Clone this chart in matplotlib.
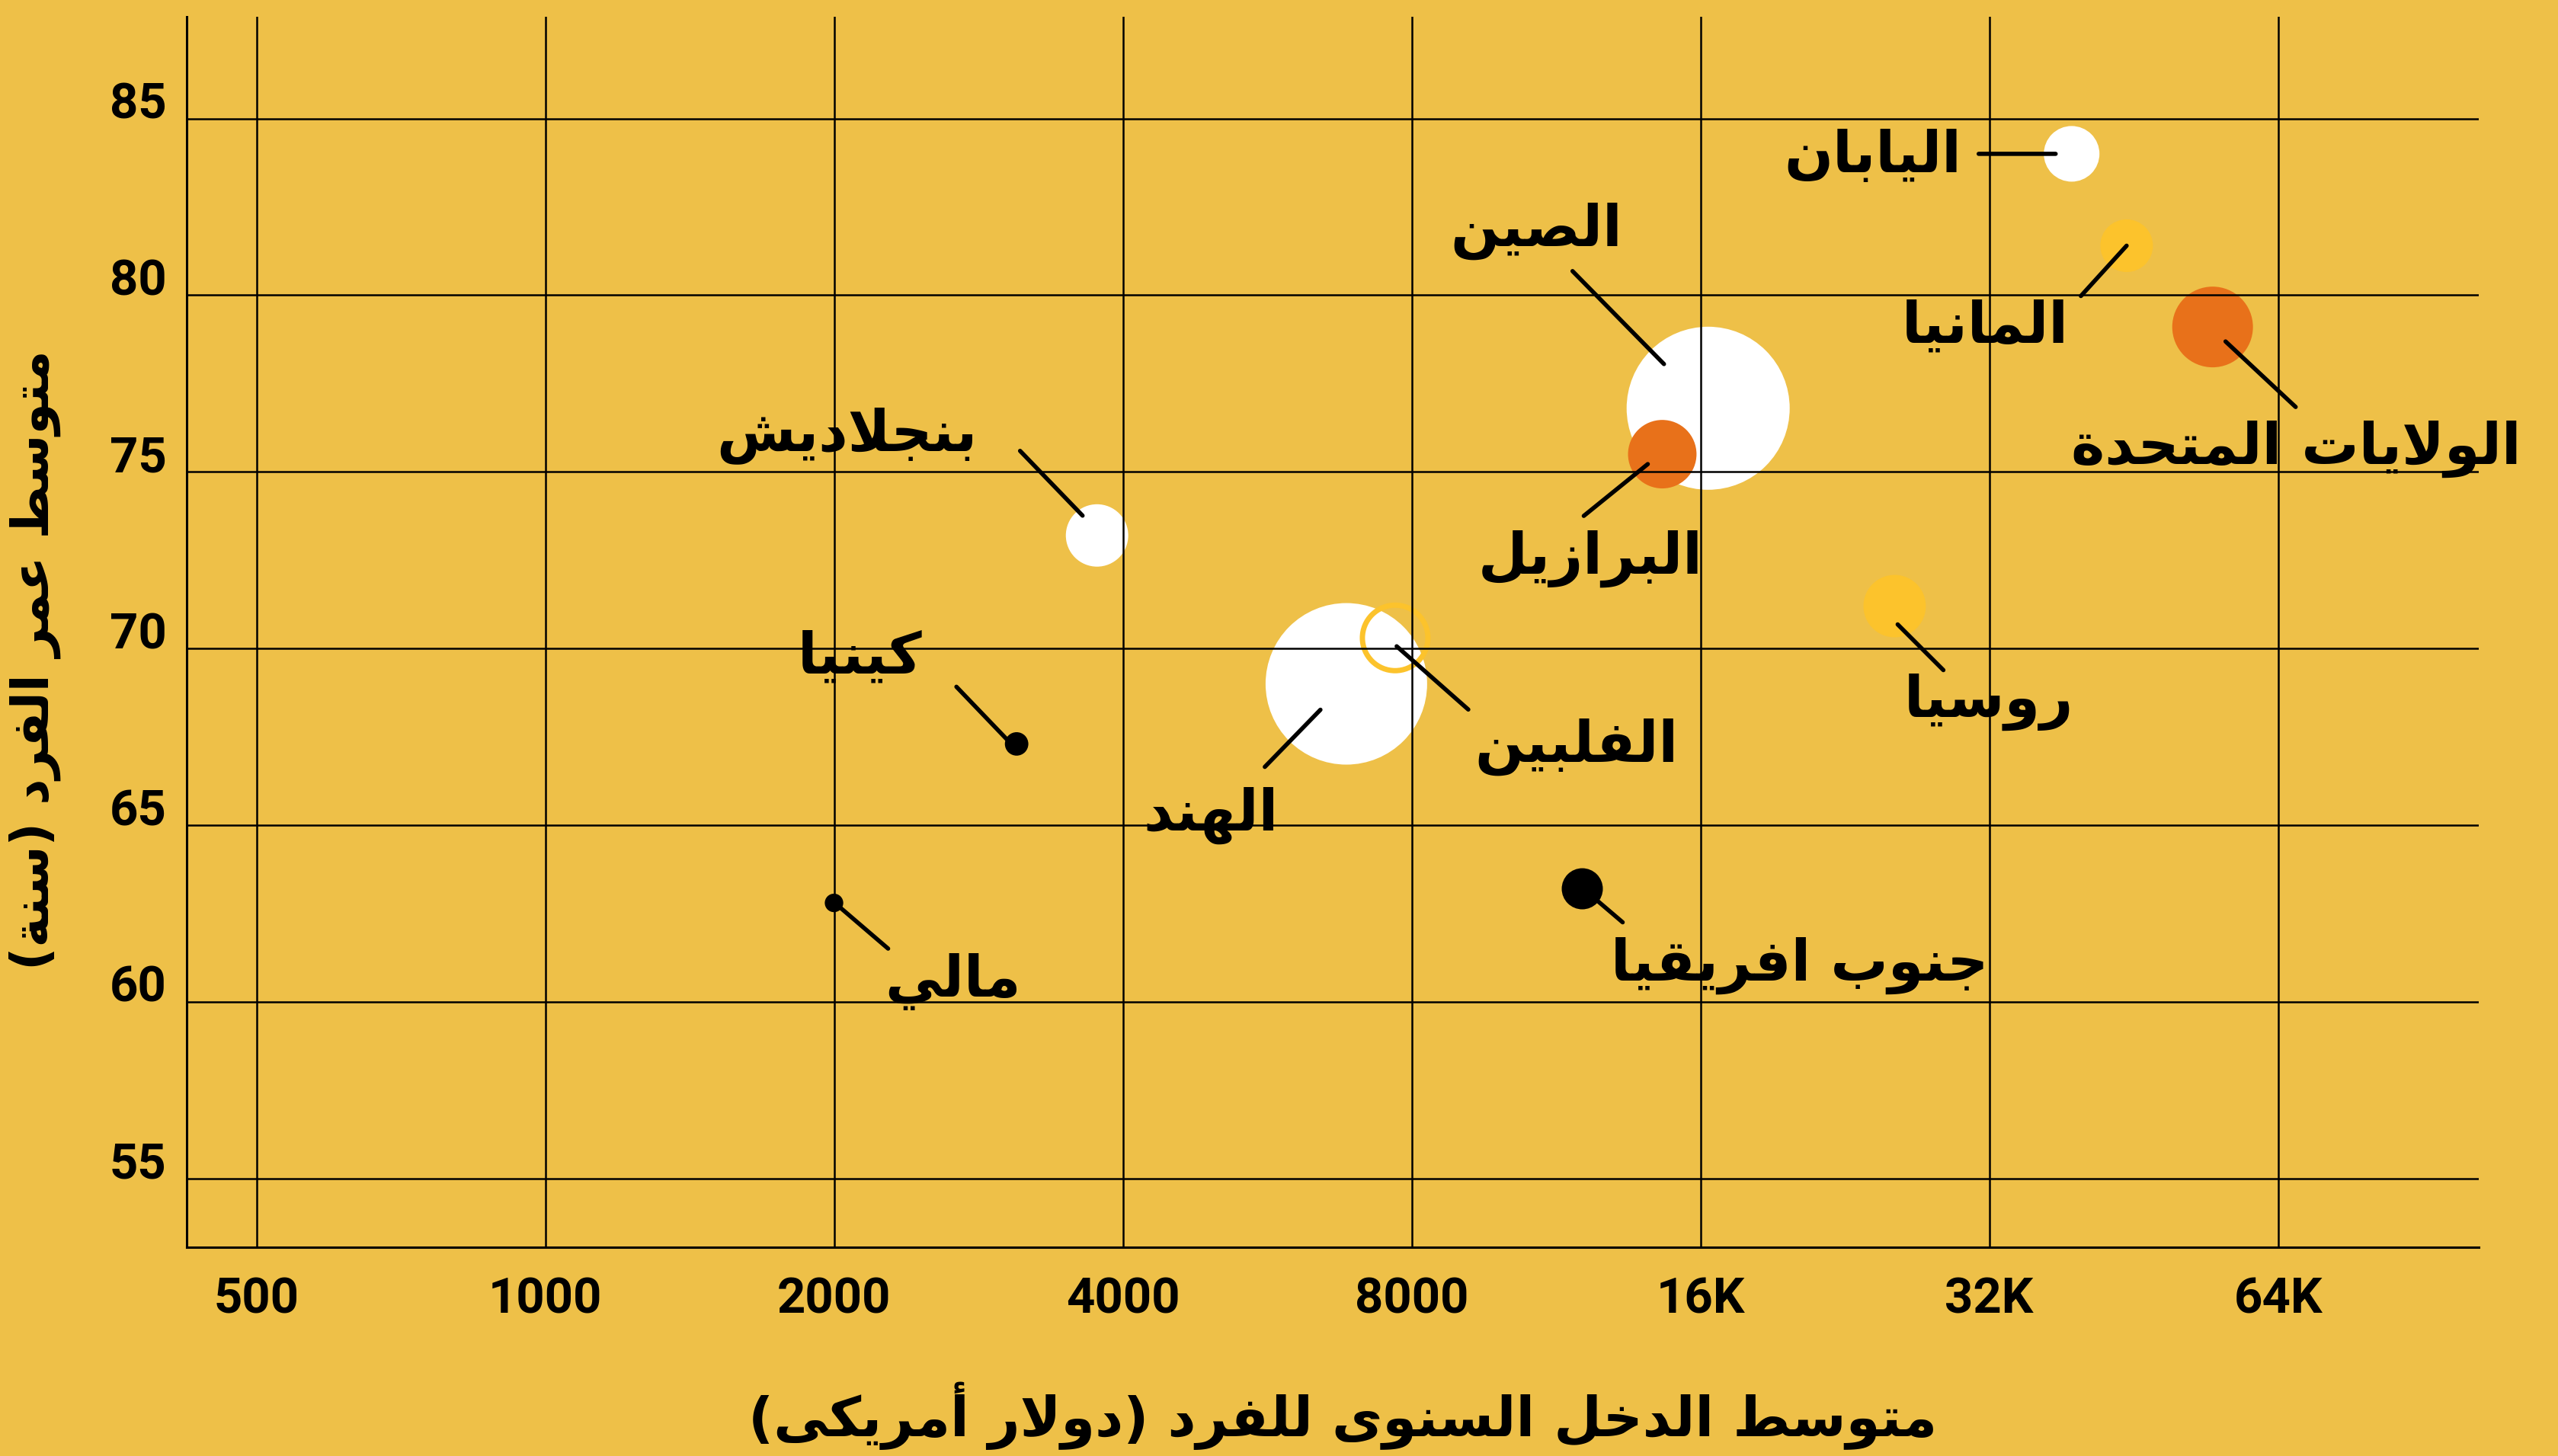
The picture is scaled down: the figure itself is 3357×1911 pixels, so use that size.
import matplotlib
matplotlib.use("Agg")
import matplotlib.pyplot as plt
from matplotlib.transforms import offset_copy
import numpy as np

# ---------------- data ----------------
countries = ["الصين", "الهند", "الولايات المتحدة", "البرازيل", "الفلبين", "بنجلاديش",
             "روسيا", "اليابان", "المانيا", "جنوب افريقيا", "كينيا", "مالي"]
income = [16300, 6840, 54700, 14600, 7690, 3760, 25500, 39000, 44500, 12050, 3100, 2000]
life_exp = [76.8, 69.0, 79.1, 75.5, 70.3, 73.2, 71.2, 84.0, 81.4, 63.2, 67.3, 62.8]
population_m = [1400, 1374, 343, 247, 226, 205, 205, 163, 146, 89, 29, 18]

x_ticks = [500, 1000, 2000, 4000, 8000, 16000, 32000, 64000]
x_tick_labels = ["500", "1000", "2000", "4000", "8000", "16K", "32K", "64K"]
y_ticks = [55, 60, 65, 70, 75, 80, 85]

x_title = "متوسط الدخل السنوى للفرد (دولار أمريكى)"
y_title = "متوسط عمر الفرد (سنة)"

# ---------------- styles / layout ----------------
BG = "#EEC048"
WHITE = "#FFFFFF"
ORANGE = "#E8711A"
GOLD = "#FCC32C"
BLACK = "#000000"
face = [WHITE, WHITE, ORANGE, ORANGE, "none", WHITE, GOLD, WHITE, GOLD, BLACK, BLACK, BLACK]
edge = ["none", "none", "none", "none", GOLD, "none", "none", "none", "none", "none", "none", "none"]

# label layout: text offset (px), leader start offset, leader end offset (px, y up)
label_layout = {
    "اليابان": ((-261, -4), (-122, 0), (-21, 0)),
    "المانيا": ((-186, -107), (-60, -66), (0, 0)),
    "الولايات المتحدة": ((110, -160), (109, -105), (17, -19)),
    "الصين": ((-225, 233), (-178, 180), (-58, 58)),
    "البرازيل": ((-94, -137), (-103, -81), (-19, -13)),
    "بنجلاديش": ((-328, 131), (-101, 111), (-19, 26)),
    "روسيا": ((124, -126), (64, -84), (4, -24)),
    "الهند": ((-178, -173), (-107, -109), (-34, -34)),
    "الفلبين": ((238, -143), (96, -94), (2, -11)),
    "كينيا": ((-206, 113), (-79, 75), (-9, 2)),
    "جنوب افريقيا": ((285, -101), (53, -44), (19, -15)),
    "مالي": ((156, -103), (71, -60), (8, -6)),
}

# ---------------- minimal Arabic shaping ----------------
FORMS = {
    'ا': ('\uFE8D', '\uFE8E', None, None),
    'أ': ('\uFE83', '\uFE84', None, None),
    'ب': ('\uFE8F', '\uFE90', '\uFE91', '\uFE92'),
    'ة': ('\uFE93', '\uFE94', None, None),
    'ت': ('\uFE95', '\uFE96', '\uFE97', '\uFE98'),
    'ج': ('\uFE9D', '\uFE9E', '\uFE9F', '\uFEA0'),
    'ح': ('\uFEA1', '\uFEA2', '\uFEA3', '\uFEA4'),
    'خ': ('\uFEA5', '\uFEA6', '\uFEA7', '\uFEA8'),
    'د': ('\uFEA9', '\uFEAA', None, None),
    'ر': ('\uFEAD', '\uFEAE', None, None),
    'ز': ('\uFEAF', '\uFEB0', None, None),
    'س': ('\uFEB1', '\uFEB2', '\uFEB3', '\uFEB4'),
    'ش': ('\uFEB5', '\uFEB6', '\uFEB7', '\uFEB8'),
    'ص': ('\uFEB9', '\uFEBA', '\uFEBB', '\uFEBC'),
    'ط': ('\uFEC1', '\uFEC2', '\uFEC3', '\uFEC4'),
    'ع': ('\uFEC9', '\uFECA', '\uFECB', '\uFECC'),
    'ف': ('\uFED1', '\uFED2', '\uFED3', '\uFED4'),
    'ق': ('\uFED5', '\uFED6', '\uFED7', '\uFED8'),
    'ك': ('\uFED9', '\uFEDA', '\uFEDB', '\uFEDC'),
    'ل': ('\uFEDD', '\uFEDE', '\uFEDF', '\uFEE0'),
    'م': ('\uFEE1', '\uFEE2', '\uFEE3', '\uFEE4'),
    'ن': ('\uFEE5', '\uFEE6', '\uFEE7', '\uFEE8'),
    'ه': ('\uFEE9', '\uFEEA', '\uFEEB', '\uFEEC'),
    'و': ('\uFEED', '\uFEEE', None, None),
    'ى': ('\uFEEF', '\uFEF0', None, None),
    'ي': ('\uFEF1', '\uFEF2', '\uFEF3', '\uFEF4'),
    'لا': ('\uFEFB', '\uFEFC', None, None),
    'لأ': ('\uFEF7', '\uFEF8', None, None),
}
MIRROR = {'(': ')', ')': '('}


def shape_ar(text):
    units = []
    i = 0
    while i < len(text):
        if text[i] == 'ل' and i + 1 < len(text) and text[i + 1] in 'اأ':
            units.append(text[i:i + 2])
            i += 2
        else:
            units.append(text[i])
            i += 1
    out = []
    for k, u in enumerate(units):
        if u not in FORMS:
            out.append(MIRROR.get(u, u))
            continue
        prev = units[k - 1] if k > 0 else None
        nxt = units[k + 1] if k + 1 < len(units) else None
        dual = FORMS[u][2] is not None
        pj = prev in FORMS and FORMS[prev][2] is not None
        nj = dual and nxt in FORMS
        if pj and nj:
            out.append(FORMS[u][3])
        elif pj:
            out.append(FORMS[u][1])
        elif nj:
            out.append(FORMS[u][2])
        else:
            out.append(FORMS[u][0])
    return ''.join(reversed(out))


# ---------------- figure ----------------
DPI = 100
fig = plt.figure(figsize=(33.57, 19.11), dpi=DPI, facecolor=BG)
ax = fig.add_axes([0.073, 0.1435, 0.969 - 0.073, 0.9885 - 0.1435])
ax.set_facecolor(BG)
ax.set_xscale("log", base=2)
ax.set_xlim(423, 103600)
ax.set_ylim(53.06, 87.88)

# bubble sizes: radius px proportional to sqrt(population)
r_px = 107 * np.sqrt(np.array(population_m) / 1400.0)
sizes = (2 * r_px * 72 / DPI) ** 2
lws = [5 if e != "none" else 0 for e in edge]
ax.scatter(income, life_exp, s=sizes, c=face, edgecolors=edge, linewidths=lws, zorder=1)

ax.set_axisbelow("line")
ax.grid(True, color=BLACK, lw=1.8)
ax.set_xticks(x_ticks)
ax.set_xticklabels(x_tick_labels)
ax.set_yticks(y_ticks)
ax.minorticks_off()
ax.tick_params(length=0, labelsize=47, colors=BLACK)
ax.tick_params(axis="x", pad=28)
ax.tick_params(axis="y", pad=19)
for lab in ax.get_xticklabels() + ax.get_yticklabels():
    lab.set_fontfamily("Roboto")
    lab.set_fontweight("bold")
for lab in ax.get_yticklabels():
    lab.set_verticalalignment("baseline")

for s in ["top", "right"]:
    ax.spines[s].set_visible(False)
for s in ["left", "bottom"]:
    ax.spines[s].set_color(BLACK)
    ax.spines[s].set_linewidth(2.2)

# labels and leaders
for name, xv, yv in zip(countries, income, life_exp):
    (tx, ty), (sx, sy), (ex, ey) = label_layout[name]
    ax.annotate("", xy=(xv, yv), xycoords=offset_copy(ax.transData, fig=fig, x=ex, y=ey, units="dots"),
                xytext=(xv, yv), textcoords=offset_copy(ax.transData, fig=fig, x=sx, y=sy, units="dots"),
                arrowprops=dict(arrowstyle="-", lw=4.0, color=BLACK, shrinkA=0, shrinkB=0), zorder=4)
    ax.text(xv, yv, shape_ar(name), transform=offset_copy(ax.transData, fig=fig, x=tx, y=ty, units="dots"),
            ha="center", va="center", fontsize=54, fontweight="bold", family=["DejaVu Sans"],
            color=BLACK, zorder=5)

fig.text(0.525, 0.0277, shape_ar(x_title), ha="center", va="center", fontsize=52,
         fontweight="bold", family=["DejaVu Sans"], color=BLACK)
fig.text(0.0135, 0.5465, shape_ar(y_title), ha="center", va="center", rotation=90, fontsize=48,
         fontweight="bold", family=["DejaVu Sans"], color=BLACK)

fig.savefig("out.png", dpi=DPI, facecolor=BG)
